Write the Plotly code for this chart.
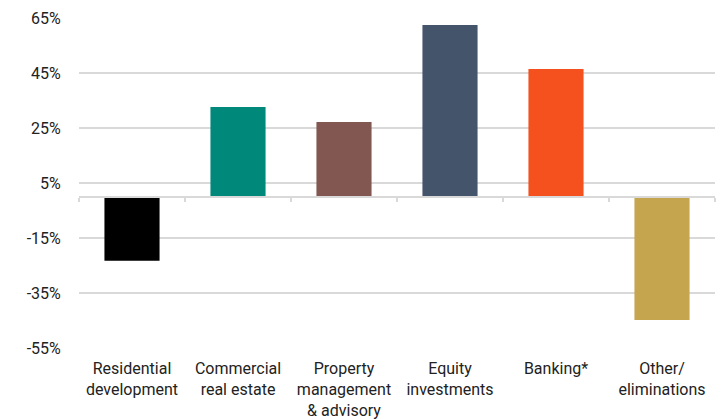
import plotly.graph_objects as go

categories = ["Residential<br>development", "Commercial<br>real estate",
              "Property<br>management<br>& advisory", "Equity<br>investments",
              "Banking*", "Other/<br>eliminations"]
values = [-23.3, 32.6, 27.2, 62.5, 46.5, -44.8]
colors = ["#000000", "#00897B", "#835751", "#44546A", "#F4511E", "#C5A54E"]
y_ticks = [-55, -35, -15, 5, 25, 45, 65]
y_labels = [f"{v}%" for v in y_ticks]

fig = go.Figure()
fig.add_trace(go.Bar(x=categories, y=values, marker=dict(color=colors, line=dict(width=0)),
                     hoverinfo="skip", showlegend=False))
# invisible trace to host the zero-position boundary axis
fig.add_trace(go.Scatter(x=[-0.5, 5.5], y=[0, 0], xaxis="x2", mode="lines",
                         line=dict(width=0), showlegend=False, hoverinfo="skip"))

font = dict(family="Roboto, Inter, sans-serif", size=16, color="#222222")
fig.update_layout(
    width=721, height=419,
    margin=dict(l=79, r=6, t=18, b=71, autoexpand=False),
    paper_bgcolor="white", plot_bgcolor="white",
    font=font,
    bargap=0.48,
    xaxis=dict(type="category", showgrid=False, showline=False, zeroline=False,
               ticks="outside", ticklen=6, tickcolor="rgba(0,0,0,0)",
               tickfont=font, range=[-0.5, 5.5], automargin=False),
    xaxis2=dict(overlaying="x", anchor="free", position=55/120, range=[-0.5, 5.5],
                showline=True, linecolor="#d9d9d9", linewidth=1.5,
                ticks="outside", ticklen=4, tickcolor="#d9d9d9", tickwidth=1.5,
                tickvals=[-0.5 + i for i in range(7)], showticklabels=False,
                showgrid=False, zeroline=False, automargin=False),
    yaxis=dict(range=[-55, 65], tickvals=y_ticks, ticktext=y_labels,
               showgrid=True, gridcolor="#d9d9d9", gridwidth=1.5,
               zeroline=False, showline=False, automargin=False,
               ticks="outside", ticklen=14, tickcolor="rgba(0,0,0,0)",
               tickfont=font),
)
fig.write_html("out.html")
